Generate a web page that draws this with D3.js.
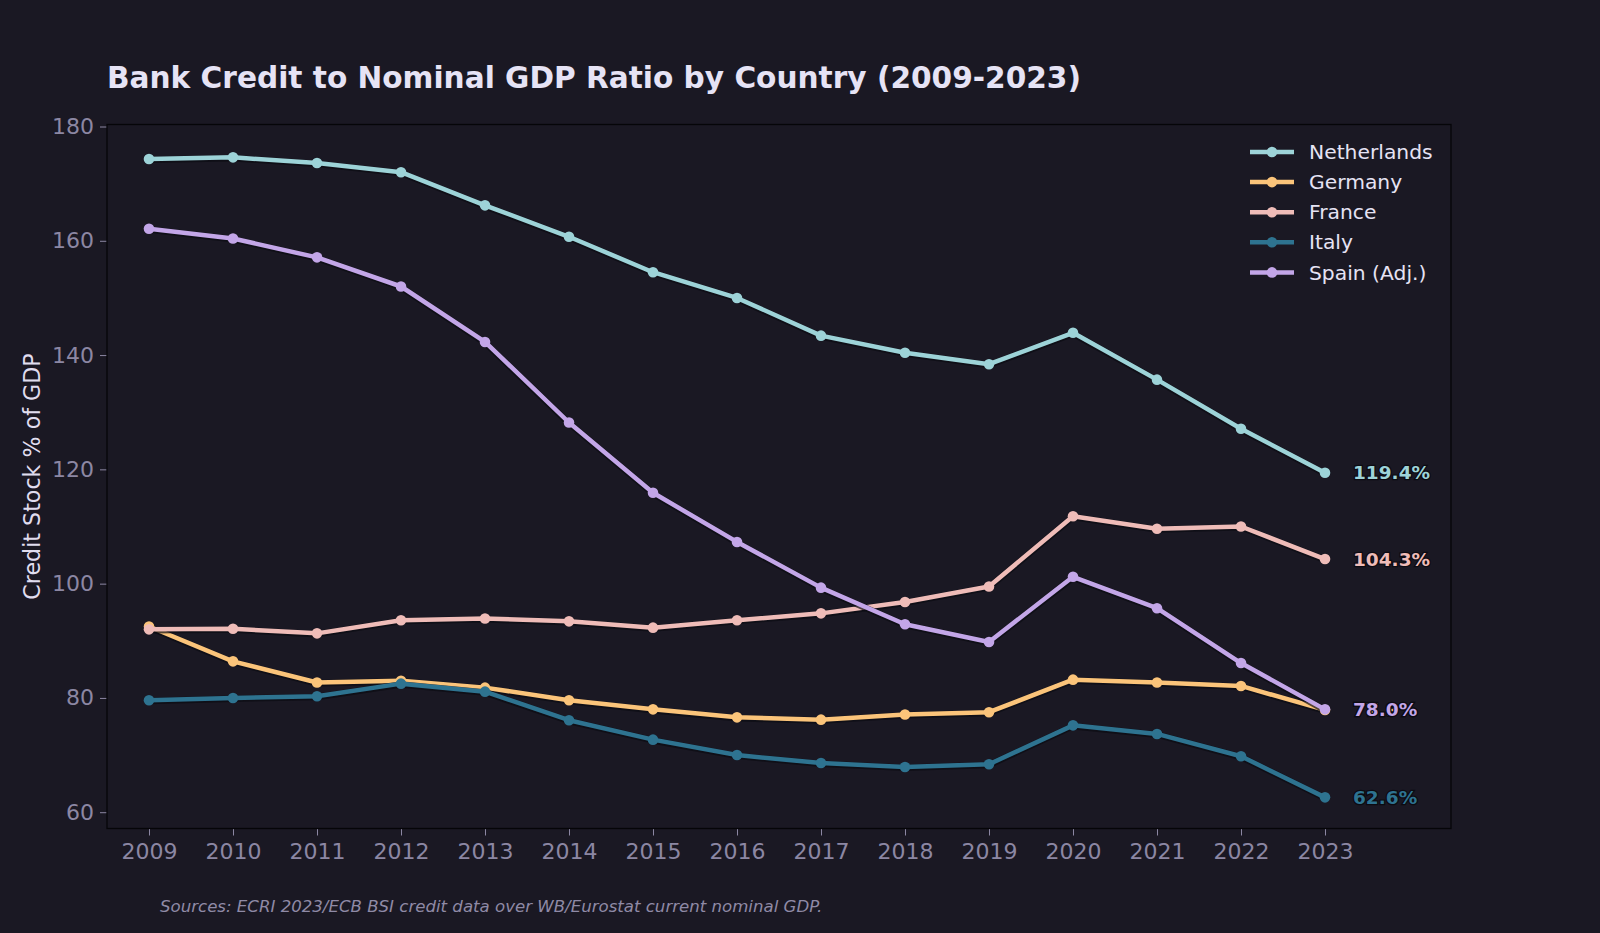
<!DOCTYPE html>
<html>
<head>
<meta charset="utf-8">
<script src="https://cdn.jsdelivr.net/npm/d3@7/dist/d3.min.js"></script>
<style>
  html, body { margin: 0; padding: 0; background: #1a1823; }
  svg { display: block; }
  text { font-family: "DejaVu Sans", sans-serif; }
</style>
</head>
<body>
<svg id="chart" width="1600" height="933"></svg>
<script>
const years = [2009, 2010, 2011, 2012, 2013, 2014, 2015, 2016, 2017, 2018, 2019, 2020, 2021, 2022, 2023];
const netherlands = [174.3, 174.6, 173.6, 172.0, 166.2, 160.7, 154.5, 150.0, 143.4, 140.4, 138.4, 143.9, 135.7, 127.1, 119.4];
const germany     = [92.5, 86.4, 82.7, 83.0, 81.8, 79.6, 78.0, 76.6, 76.2, 77.1, 77.5, 83.2, 82.7, 82.1, 77.9];
const france      = [92.0, 92.1, 91.3, 93.6, 93.9, 93.4, 92.3, 93.6, 94.8, 96.8, 99.5, 111.8, 109.6, 110.0, 104.3];
const italy       = [79.6, 80.0, 80.3, 82.5, 81.1, 76.1, 72.7, 70.0, 68.6, 67.9, 68.4, 75.2, 73.7, 69.8, 62.6];
const spain       = [162.1, 160.4, 157.1, 152.0, 142.3, 128.2, 115.9, 107.3, 99.3, 92.9, 89.8, 101.2, 95.7, 86.1, 78.0];
const seriesNames = ["Netherlands", "Germany", "France", "Italy", "Spain (Adj.)"];
const seriesColors = ["#9dd3d8", "#fbc47a", "#efbcb8", "#2e7390", "#c3a6e8"];
const yTicks = [60, 80, 100, 120, 140, 160, 180];
const titleText = "Bank Credit to Nominal GDP Ratio by Country (2009-2023)";
const yLabel = "Credit Stock % of GDP";
const sourceText = "Sources: ECRI 2023/ECB BSI credit data over WB/Eurostat current nominal GDP.";

const seriesValues = [netherlands, germany, france, italy, spain];
const series = seriesNames.map((n, i) => ({ name: n, color: seriesColors[i], values: seriesValues[i] }));

const svg = d3.select("#chart");
const W = 1600, H = 933;
const m = { left: 107, right: 1451, top: 124.5, bottom: 828.5 };
const bg = "#1a1823";

svg.append("rect").attr("width", W).attr("height", H).attr("fill", bg);

const x = d3.scaleLinear().domain([2008.5, 2024.5]).range([m.left, m.right]);
const y = d3.scaleLinear().domain([57.15, 180.35]).range([m.bottom, m.top]);

// axes
const tickColor = "#8c87a3";
const yAxis = svg.append("g").attr("transform", `translate(${m.left},0)`)
  .call(d3.axisLeft(y).tickValues(yTicks).tickSize(7).tickPadding(6).tickFormat(d3.format("d")));
const xAxis = svg.append("g").attr("transform", `translate(0,${m.bottom})`)
  .call(d3.axisBottom(x).tickValues(years).tickSize(7).tickPadding(8).tickFormat(d3.format("d")));
[yAxis, xAxis].forEach(a => {
  a.select(".domain").remove();
  a.selectAll(".tick line").attr("stroke", tickColor).attr("stroke-width", 1);
  a.selectAll(".tick text").attr("fill", tickColor).style("font-size", "22px")
    .style("font-family", "'DejaVu Sans', sans-serif");
});

// frame
svg.append("rect").attr("x", m.left).attr("y", m.top)
  .attr("width", m.right - m.left).attr("height", m.bottom - m.top)
  .attr("fill", "none").attr("stroke", "#050508").attr("stroke-width", 1.3);

// lines
const line = d3.line().x((d, i) => x(years[i])).y(d => y(d));
const plot = svg.append("g");
series.forEach(s => {
  const g = plot.append("g");
  g.append("path").datum(s.values).attr("d", line)
    .attr("fill", "none").attr("stroke", "#0c0b12").attr("stroke-width", 6.5).attr("stroke-opacity", 0.7)
    .attr("stroke-linejoin", "round").attr("transform", "translate(0,0.8)");
  g.append("path").datum(s.values).attr("d", line)
    .attr("fill", "none").attr("stroke", s.color).attr("stroke-width", 4.5)
    .attr("stroke-linejoin", "round");
  g.selectAll("circle").data(s.values).enter().append("circle")
    .attr("cx", (d, i) => x(years[i])).attr("cy", d => y(d)).attr("r", 5.3)
    .attr("fill", s.color);
});

// end labels
series.forEach(s => {
  const v = s.values[s.values.length - 1];
  svg.append("text")
    .attr("x", x(years[years.length - 1]) + 28).attr("y", y(v))
    .attr("dy", "0.35em")
    .attr("fill", s.color).attr("stroke", "#0c0b12").attr("stroke-width", 2.5)
    .attr("paint-order", "stroke")
    .style("font-size", "18.5px").style("font-weight", "bold")
    .text(v.toFixed(1) + "%");
});

// legend
const lg = svg.append("g");
series.forEach((s, i) => {
  const yy = 152 + i * 30.1;
  lg.append("line").attr("x1", 1250).attr("x2", 1294).attr("y1", yy).attr("y2", yy)
    .attr("stroke", s.color).attr("stroke-width", 4.5);
  lg.append("circle").attr("cx", 1272).attr("cy", yy).attr("r", 5.3).attr("fill", s.color);
  lg.append("text").attr("x", 1309).attr("y", yy).attr("dy", "0.35em")
    .attr("fill", "#e6e3f4").style("font-size", "20.3px").text(s.name);
});

// title
svg.append("text").attr("x", 107).attr("y", 88)
  .attr("fill", "#e6e3f5").style("font-size", "29.6px").style("font-weight", "bold")
  .text(titleText);

// y label
svg.append("text")
  .attr("transform", `translate(40,${(m.top + m.bottom) / 2}) rotate(-90)`)
  .attr("text-anchor", "middle")
  .attr("fill", "#e0ddef").style("font-size", "22.2px")
  .text(yLabel);

// source
svg.append("text").attr("x", 160).attr("y", 912)
  .attr("fill", "#8f8aa6").style("font-size", "16.6px").style("font-style", "italic")
  .text(sourceText);
</script>
</body>
</html>
